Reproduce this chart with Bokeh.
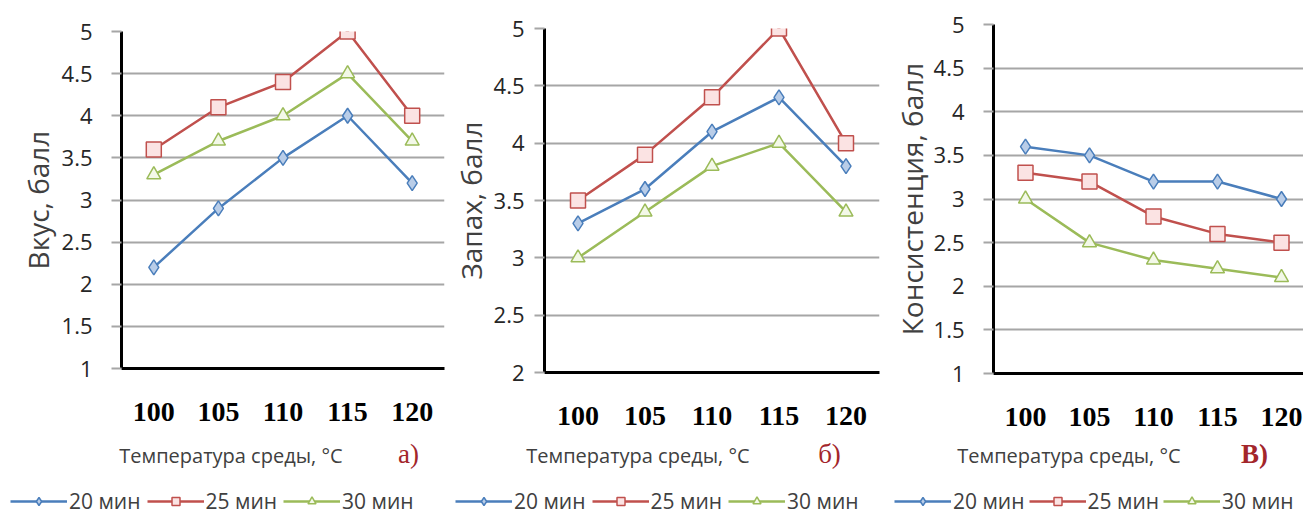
from bokeh.plotting import figure
from bokeh.layouts import row, column
from bokeh.models import Label, Legend, LegendItem, FactorRange, Range1d, FixedTicker
from bokeh.embed import file_html
from bokeh.resources import INLINE

temps = ["100", "105", "110", "115", "120"]
series_names = ["20 мин", "25 мин", "30 мин"]

taste_20 = [2.2, 2.9, 3.5, 4.0, 3.2]
taste_25 = [3.6, 4.1, 4.4, 5.0, 4.0]
taste_30 = [3.3, 3.7, 4.0, 4.5, 3.7]

smell_20 = [3.3, 3.6, 4.1, 4.4, 3.8]
smell_25 = [3.5, 3.9, 4.4, 5.0, 4.0]
smell_30 = [3.0, 3.4, 3.8, 4.0, 3.4]

cons_20 = [3.6, 3.5, 3.2, 3.2, 3.0]
cons_25 = [3.3, 3.2, 2.8, 2.6, 2.5]
cons_30 = [3.0, 2.5, 2.3, 2.2, 2.1]

y_titles = ["Вкус, балл", "Запах, балл", "Консистенция, балл"]
x_title = "Температура  среды, °С"
panel_letters = ["а)", "б)", "В)"]
y_ticks_1 = [1, 1.5, 2, 2.5, 3, 3.5, 4, 4.5, 5]
y_ticks_2 = [2, 2.5, 3, 3.5, 4, 4.5, 5]

COLORS = ["#4a7ebb", "#c0504d", "#9bbb59"]
MARKERS = ["diamond", "square", "triangle"]
FILLS = ["#b9cde8", "#fbe3e3", "#f3f8e8"]
SIZES = [15, 15, 14]

SANS = "Open Sans"
CHART_H = 436
CAP_H = 85


def make_chart(series, y_title, y_ticks, lay):
    p = figure(
        x_range=FactorRange(factors=temps),
        y_range=Range1d(y_ticks[0], y_ticks[-1]),
        frame_width=lay["fw"], frame_height=lay["fh"],
        min_border_left=lay["bl"], min_border_right=lay["br"],
        min_border_top=lay["bt"], min_border_bottom=CHART_H - lay["bt"] - lay["fh"],
        output_backend="svg", toolbar_location=None,
    )
    p.outline_line_color = None
    p.xgrid.grid_line_color = None
    p.ygrid.grid_line_color = "#a6a6a6"
    p.ygrid.grid_line_width = 2

    p.yaxis.ticker = FixedTicker(ticks=y_ticks)
    p.yaxis.major_label_overrides = {t: f"{t:g}" for t in y_ticks}
    p.yaxis.axis_line_width = 3
    p.yaxis.axis_line_color = "black"
    p.yaxis.major_tick_in = 0
    p.yaxis.major_tick_out = 10
    p.yaxis.major_tick_line_color = "#a6a6a6"
    p.yaxis.major_tick_line_width = 2
    p.yaxis.minor_tick_line_color = None
    p.yaxis.major_label_standoff = lay["ystand"]
    p.yaxis.major_label_text_font = SANS
    p.yaxis.major_label_text_font_size = "22px"
    p.yaxis.major_label_text_color = "#262626"
    p.yaxis.axis_label = y_title
    p.yaxis.axis_label_standoff = lay["ylab_stand"]
    p.yaxis.axis_label_text_font = SANS
    p.yaxis.axis_label_text_font_size = "28px"
    p.yaxis.axis_label_text_font_style = "normal"
    p.yaxis.axis_label_text_color = "#404040"

    p.xaxis.axis_line_width = 3
    p.xaxis.axis_line_color = "black"
    p.xaxis.major_tick_line_color = None
    p.xaxis.major_tick_out = 0
    p.xaxis.major_tick_in = 0
    p.xaxis.major_label_standoff = 34
    p.xaxis.major_label_text_font = "Liberation Serif"
    p.xaxis.major_label_text_font_style = "bold"
    p.xaxis.major_label_text_font_size = "28px"
    p.xaxis.major_label_text_color = "black"

    for i, vals in enumerate(series):
        p.line(temps, vals, line_color=COLORS[i], line_width=2.5)
        p.scatter(temps, vals, marker=MARKERS[i], size=SIZES[i],
                  line_color=COLORS[i], line_width=1.5, fill_color=FILLS[i])
    return p


def make_caption(series, letter, width, lay):
    c = figure(
        x_range=Range1d(0, width), y_range=Range1d(0, CAP_H),
        width=width, height=CAP_H,
        min_border=0, output_backend="svg", toolbar_location=None,
    )
    c.axis.visible = False
    c.grid.visible = False
    c.outline_line_color = None

    items = []
    for i, vals in enumerate(series):
        idx = list(range(len(temps)))
        ln = c.line(idx, vals, line_color=COLORS[i], line_width=2.5, visible=False)
        sc = c.scatter(idx, vals, marker=MARKERS[i], size=SIZES[i],
                       line_color=COLORS[i], line_width=1.5, fill_color=FILLS[i],
                       visible=False)
        items.append(LegendItem(label=series_names[i], renderers=[ln, sc]))

    legend = Legend(
        items=items, location=lay["leg"], orientation="horizontal",
        glyph_width=57, glyph_height=20, label_standoff=2, spacing=lay["leg_sp"],
        padding=0, margin=0, border_line_color=None, background_fill_alpha=0,
        label_text_font=SANS, label_text_font_size="21px",
        label_text_color="#404040",
    )
    c.add_layout(legend)

    c.add_layout(Label(
        x=lay["xlab"][0], y=lay["xlab"][1],
        text=x_title, text_align="center", text_baseline="middle",
        text_font=SANS, text_font_size="20px", text_color="#404040",
    ))
    c.add_layout(Label(
        x=lay["let"][0], y=lay["let"][1],
        text=letter, text_align="center", text_baseline="middle",
        text_font="Liberation Serif", text_font_size="27px",
        text_font_style=lay["let_style"], text_color="#a3262b",
    ))
    return c


lay1 = dict(fw=323, fh=337, bl=121, br=4, bt=31, ystand=19, ylab_stand=2,
            leg=(10, 6), leg_sp=6, xlab=(233, 66), let=(408, 68), let_style="normal")
lay2 = dict(fw=335, fh=344, bl=84, br=10, bt=28, ystand=10, ylab_stand=1,
            leg=(7, 6), leg_sp=6, xlab=(192, 66), let=(381, 68), let_style="normal")
lay3 = dict(fw=320, fh=349, bl=100, br=6, bt=24, ystand=19, ylab_stand=0,
            leg=(17, 6), leg_sp=4, xlab=(194, 66), let=(377, 68), let_style="bold")

s1 = [taste_20, taste_25, taste_30]
s2 = [smell_20, smell_25, smell_30]
s3 = [cons_20, cons_25, cons_30]

p1 = make_chart(s1, y_titles[0], y_ticks_1, lay1)
p2 = make_chart(s2, y_titles[1], y_ticks_2, lay2)
p3 = make_chart(s3, y_titles[2], y_ticks_1, lay3)

w1 = lay1["bl"] + lay1["fw"] + lay1["br"]
w2 = lay2["bl"] + lay2["fw"] + lay2["br"]
w3 = lay3["bl"] + lay3["fw"] + lay3["br"]

c1 = make_caption(s1, panel_letters[0], w1, lay1)
c2 = make_caption(s2, panel_letters[1], w2, lay2)
c3 = make_caption(s3, panel_letters[2], w3, lay3)

top = row(column(p1), column(p2), column(p3), spacing=0)
bottom = row(c1, c2, c3, spacing=0)
layout = column(top, bottom, spacing=0)
open("out.html", "w").write(file_html(layout, INLINE))
